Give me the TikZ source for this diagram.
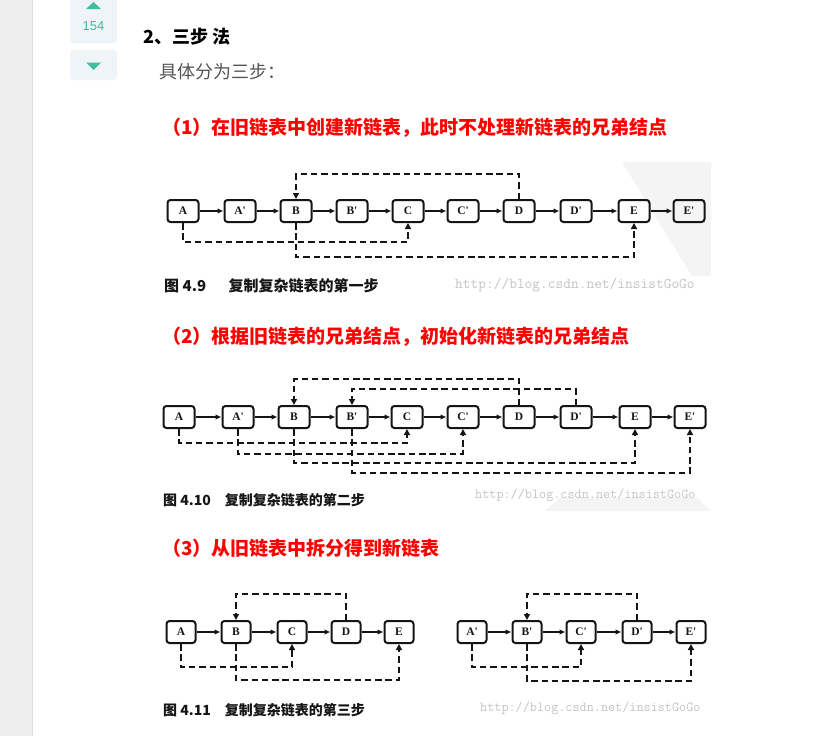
\documentclass[tikz,border=0pt]{standalone}
\usepackage{fontspec}
\usetikzlibrary{arrows.meta}
\newfontfamily\cjk{Noto Sans CJK SC}
\newfontfamily\arial{Liberation Sans}
\newfontfamily\timesf{Liberation Serif}
\definecolor{stripc}{HTML}{EEEEEE}
\definecolor{votebg}{HTML}{EEF4F7}
\definecolor{tealc}{HTML}{3DBEA0}
\definecolor{redc}{HTML}{FF0000}
\definecolor{bodyc}{HTML}{555555}
\definecolor{markc}{HTML}{C4C4C4}
\definecolor{shapec}{HTML}{F4F4F4}
\definecolor{inkc}{HTML}{151515}
\tikzset{
  nd/.style={draw=inkc, line width=2pt, rounded corners=3pt, minimum width=31pt, minimum height=22pt, inner sep=0pt, text=inkc, font=\timesf\bfseries\fontsize{11.5}{12}\selectfont},
  ar/.style={draw=inkc, line width=1.6pt, -{Latex[length=6pt,width=5.5pt]}},
  dl/.style={draw=inkc, line width=2pt, dash pattern=on 6.5pt off 3.8pt, -{Triangle[length=6pt,width=6pt]}},
  redhead/.style={anchor=west, inner sep=0pt, text=redc, font=\cjk\bfseries\fontsize{19}{22}\selectfont},
  capt/.style={anchor=west, inner sep=0pt, text=inkc, font=\cjk\bfseries\fontsize{15}{17}\selectfont},
  wmark/.style={anchor=west, inner sep=0pt, text=markc, font=\ttfamily\fontsize{15}{16}\selectfont}
}
\begin{document}
\begin{tikzpicture}[x=1pt,y=-1pt]
\useasboundingbox (0,0) rectangle (823,736);
\fill[white] (0,0) rectangle (823,736);
% left strip
\fill[stripc] (0,0) rectangle (32,736);
\draw[gray!25] (32,0) -- (32,736);
% vote boxes
\fill[votebg, rounded corners=3pt] (70,-6) rectangle (117,43);
\fill[tealc] (86,9) -- (101,9) -- (93.5,2) -- cycle;
\node[inner sep=0pt, text=tealc, font=\arial\fontsize{13}{14}\selectfont] (votes) at (93.5,26.5) {154};
\fill[votebg, rounded corners=3pt] (70,50) rectangle (117,80);
\fill[tealc] (86,62.5) -- (101,62.5) -- (93.5,70) -- cycle;
% headings
\node[anchor=west, inner sep=0pt, font=\cjk\bfseries\fontsize{18}{20}\selectfont] (h0) at (143,37) {2、三步 法};
\node[anchor=west, inner sep=0pt, text=bodyc, font=\cjk\fontsize{18}{20}\selectfont] (h1) at (159,72) {具体分为三步：};
\node[redhead] (r1) at (162,128) {（1）在旧链表中创建新链表，此时不处理新链表的兄弟结点};
\node[redhead] (r2) at (162,337) {（2）根据旧链表的兄弟结点，初始化新链表的兄弟结点};
\node[redhead] (r3) at (162,548) {（3）从旧链表中拆分得到新链表};
% faint background shapes
\fill[shapec] (622,162) -- (711,162) -- (711,276) -- (692,276) -- cycle;
\fill[shapec] (560,498) -- (698,498) -- (710,511) -- (545,511) -- cycle;
% ---------------- diagram 1
\foreach \n/\x/\t in {a1/183/A, ap1/240/A', b1/296/B, bp1/352/B', c1/408/C, cp1/463/C', d1/519/D, dp1/576/D', e1/634/E, ep1/689/E'}
  \node[nd] (\n) at (\x,211) {\t};
\foreach \p/\q in {a1/ap1, ap1/b1, b1/bp1, bp1/c1, c1/cp1, cp1/d1, d1/dp1, dp1/e1, e1/ep1}
  \draw[ar] (\p) -- (\q);
\draw[dl] (a1.south) -- (a1.south |- 0,242) -| (c1.south);
\draw[dl] (b1.south) -- (b1.south |- 0,257) -| (e1.south);
\draw[dl] (d1.north) -- (d1.north |- 0,174) -| (b1.north);
\node[capt] (cap1) at (164,286) {图 4.9\hspace{1.5em}复制复杂链表的第一步};
\node[wmark] (wm1) at (455,285) {http://blog.csdn.net/insistGoGo};
% ---------------- diagram 2
\foreach \n/\x/\t in {a2/179/A, ap2/238/A', b2/294/B, bp2/352/B', c2/407/C, cp2/463/C', d2/519/D, dp2/576/D', e2/635/E, ep2/690/E'}
  \node[nd] (\n) at (\x,417) {\t};
\foreach \p/\q in {a2/ap2, ap2/b2, b2/bp2, bp2/c2, c2/cp2, cp2/d2, d2/dp2, dp2/e2, e2/ep2}
  \draw[ar] (\p) -- (\q);
\draw[dl] (d2.north) -- (d2.north |- 0,379) -| (b2.north);
\draw[dl] (dp2.north) -- (dp2.north |- 0,389) -| (bp2.north);
\draw[dl] (a2.south) -- (a2.south |- 0,443) -| (c2.south);
\draw[dl] (ap2.south) -- (ap2.south |- 0,454) -| (cp2.south);
\draw[dl] (b2.south) -- (b2.south |- 0,463) -| (e2.south);
\draw[dl] (bp2.south) -- (bp2.south |- 0,473) -| (ep2.south);
\node[capt, font=\cjk\bfseries\fontsize{14}{16}\selectfont] (cap2) at (163,500) {图 4.10\hspace{1em}复制复杂链表的第二步};
\node[wmark, font=\ttfamily\fontsize{13.8}{15}\selectfont] (wm2) at (475,495) {http://blog.csdn.net/insistGoGo};
% ---------------- diagram 3
\foreach \n/\x/\t in {a3/181/A, b3/236/B, c3/292/C, d3/346/D, e3/399/E, ap3/472/A', bp3/527/B', cp3/581/C', dp3/637/D', ep3/691/E'}
  \node[nd, minimum width=29pt] (\n) at (\x,632) {\t};
\foreach \p/\q in {a3/b3, b3/c3, c3/d3, d3/e3, ap3/bp3, bp3/cp3, cp3/dp3, dp3/ep3}
  \draw[ar] (\p) -- (\q);
\draw[dl] (d3.north) -- (d3.north |- 0,594) -| (b3.north);
\draw[dl] (a3.south) -- (a3.south |- 0,667) -| (c3.south);
\draw[dl] (b3.south) -- (b3.south |- 0,680) -| (e3.south);
\draw[dl] (dp3.north) -- (dp3.north |- 0,594) -| (bp3.north);
\draw[dl] (ap3.south) -- (ap3.south |- 0,667) -| (cp3.south);
\draw[dl] (bp3.south) -- (bp3.south |- 0,681) -| (ep3.south);
\node[capt, font=\cjk\bfseries\fontsize{14}{16}\selectfont] (cap3) at (163,710) {图 4.11\hspace{1em}复制复杂链表的第三步};
\node[wmark, font=\ttfamily\fontsize{13.8}{15}\selectfont] (wm3) at (480,708) {http://blog.csdn.net/insistGoGo};
\end{tikzpicture}
\end{document}
